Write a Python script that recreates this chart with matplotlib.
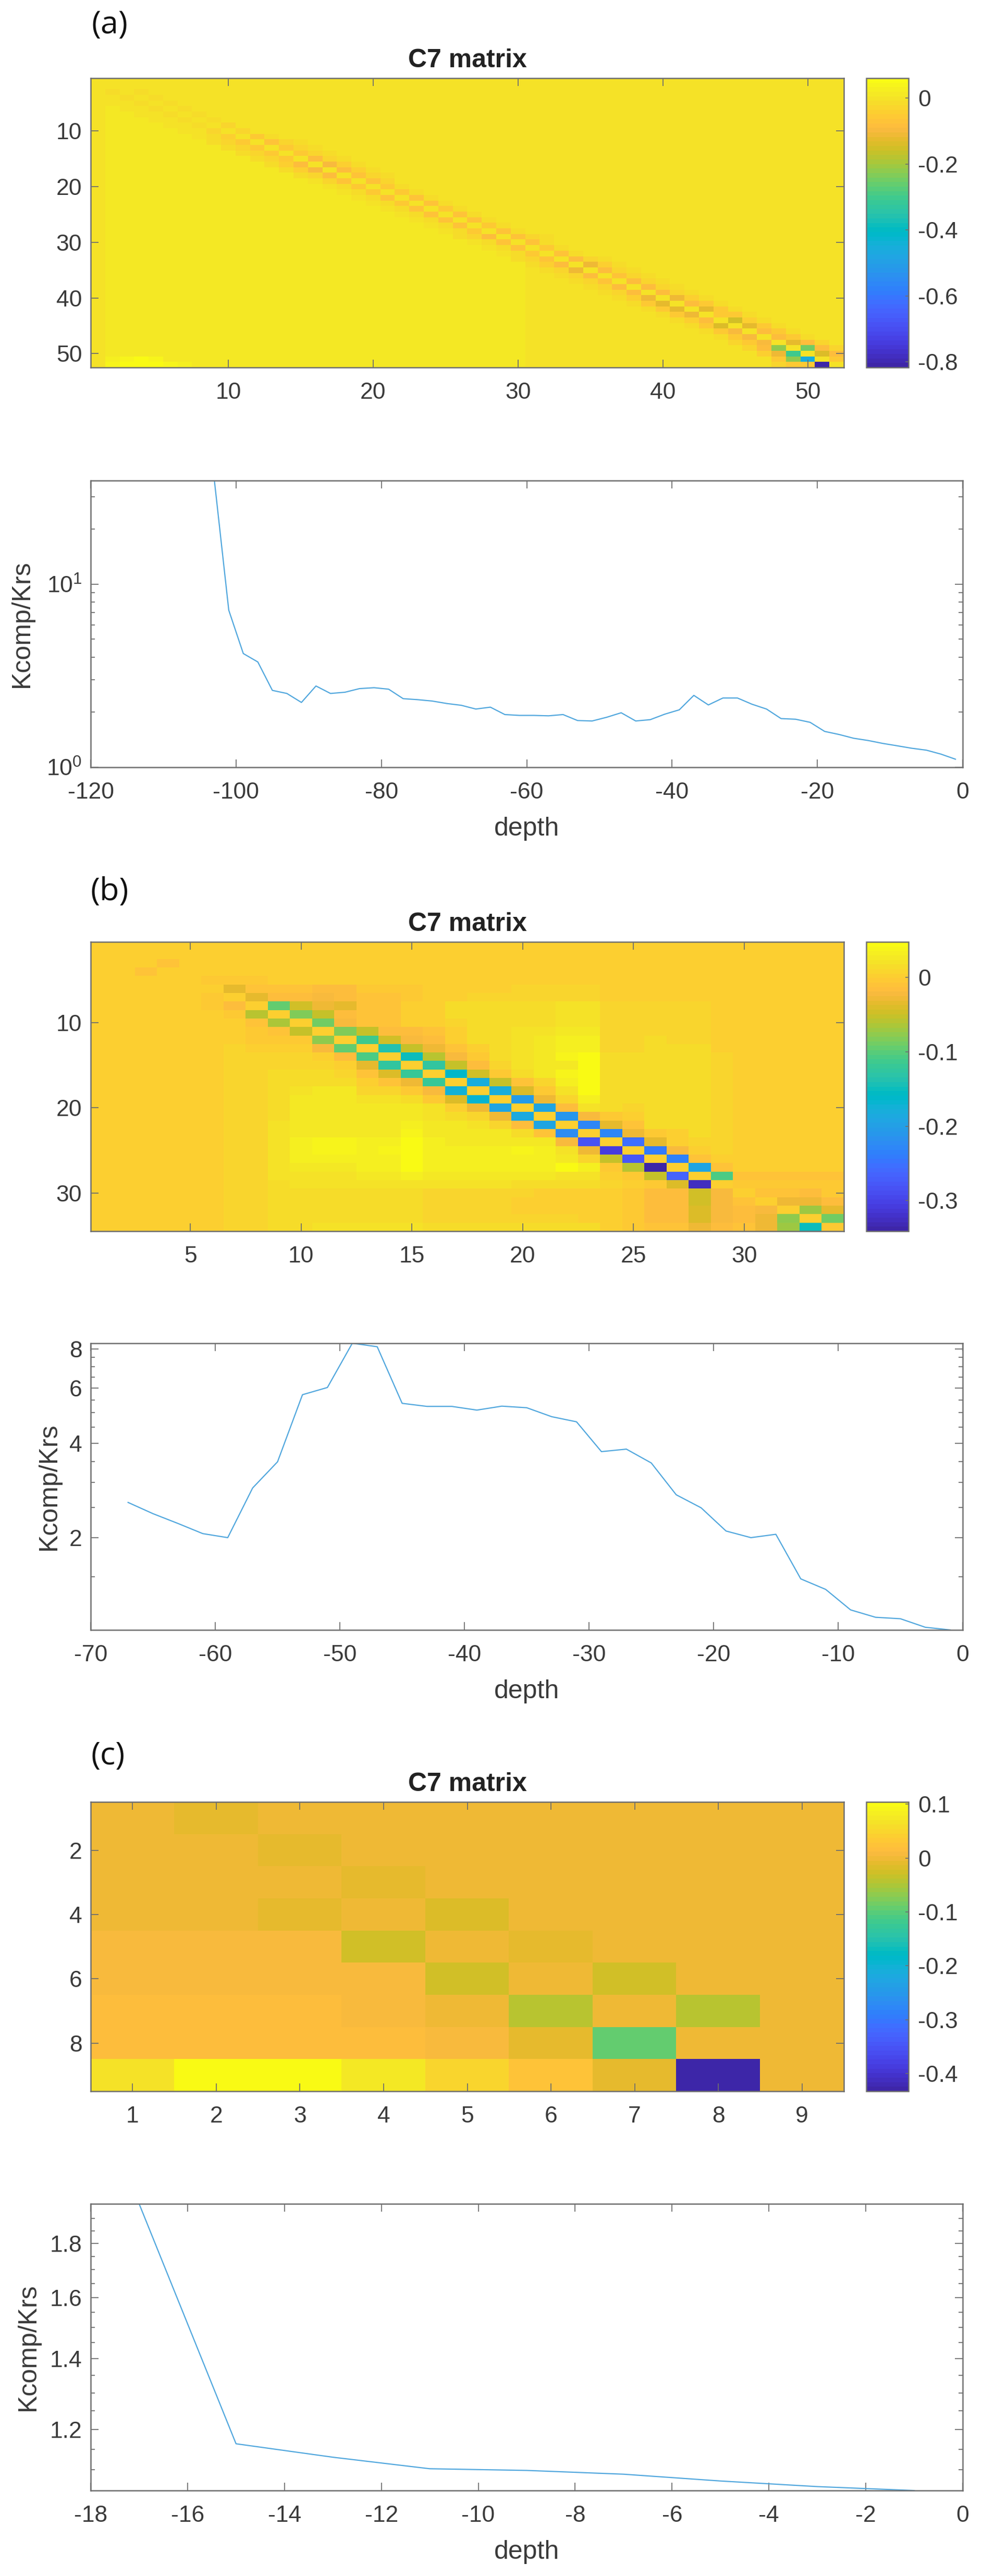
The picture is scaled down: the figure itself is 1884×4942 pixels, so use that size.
import numpy as np
import matplotlib
matplotlib.use('Agg')
import matplotlib.pyplot as plt
from matplotlib.colors import ListedColormap
from matplotlib.ticker import FixedLocator, NullFormatter, FixedFormatter

plt.rcParams['font.family'] = ['Liberation Sans', 'DejaVu Sans']
plt.rcParams['axes.unicode_minus'] = False
plt.rcParams['mathtext.fontset'] = 'custom'
plt.rcParams['mathtext.rm'] = 'Liberation Sans'
plt.rcParams['mathtext.default'] = 'regular'

# MATLAB parula table
parula = [
    [0.2422, 0.1504, 0.6603], [0.2504, 0.1650, 0.7076], [0.2578, 0.1818, 0.7511], [0.2647, 0.1978, 0.7952],
    [0.2706, 0.2147, 0.8364], [0.2751, 0.2342, 0.8710], [0.2783, 0.2559, 0.8991], [0.2803, 0.2782, 0.9221],
    [0.2813, 0.3006, 0.9414], [0.2810, 0.3228, 0.9579], [0.2795, 0.3447, 0.9717], [0.2760, 0.3667, 0.9829],
    [0.2699, 0.3892, 0.9906], [0.2602, 0.4123, 0.9952], [0.2440, 0.4358, 0.9988], [0.2206, 0.4603, 0.9973],
    [0.1963, 0.4847, 0.9892], [0.1834, 0.5074, 0.9798], [0.1786, 0.5289, 0.9682], [0.1764, 0.5499, 0.9520],
    [0.1687, 0.5703, 0.9359], [0.1540, 0.5902, 0.9218], [0.1460, 0.6091, 0.9079], [0.1380, 0.6276, 0.8973],
    [0.1248, 0.6459, 0.8883], [0.1113, 0.6635, 0.8763], [0.0952, 0.6798, 0.8598], [0.0689, 0.6948, 0.8394],
    [0.0297, 0.7082, 0.8163], [0.0036, 0.7203, 0.7917], [0.0067, 0.7312, 0.7660], [0.0433, 0.7411, 0.7394],
    [0.0964, 0.7500, 0.7120], [0.1408, 0.7584, 0.6842], [0.1717, 0.7670, 0.6554], [0.1938, 0.7758, 0.6251],
    [0.2161, 0.7843, 0.5923], [0.2470, 0.7918, 0.5567], [0.2906, 0.7973, 0.5188], [0.3406, 0.8008, 0.4789],
    [0.3909, 0.8029, 0.4354], [0.4456, 0.8024, 0.3909], [0.5044, 0.7993, 0.3480], [0.5616, 0.7942, 0.3045],
    [0.6174, 0.7876, 0.2612], [0.6720, 0.7793, 0.2227], [0.7242, 0.7698, 0.1910], [0.7738, 0.7598, 0.1646],
    [0.8203, 0.7498, 0.1535], [0.8634, 0.7406, 0.1596], [0.9035, 0.7330, 0.1774], [0.9393, 0.7288, 0.2100],
    [0.9728, 0.7298, 0.2394], [0.9956, 0.7434, 0.2371], [0.9970, 0.7659, 0.2199], [0.9952, 0.7893, 0.2028],
    [0.9892, 0.8136, 0.1885], [0.9786, 0.8386, 0.1766], [0.9676, 0.8639, 0.1643], [0.9610, 0.8890, 0.1537],
    [0.9597, 0.9135, 0.1423], [0.9628, 0.9373, 0.1265], [0.9691, 0.9606, 0.1064], [0.9769, 0.9839, 0.0805],
]
cmap = ListedColormap(parula)

# panel (a) matrix, values in thousandths
a_sup1 = [-8, -8, -12, -14, -15, -16, -20, -20, -28, -35, -50, -65, -60, -55, -80, -95, -80, -75, -65, -60, -60,
          -65, -65, -60, -70, -65, -60, -70, -75, -70, -60, -70, -85, -110, -80, -70, -80, -85, -90, -115, -80,
          -130, -60, -150, -130, -80, -90, -130, -250, -140, -50]
a_sub1 = [-8, -10, -14, -15, -16, -18, -20, -22, -32, -45, -60, -60, -55, -60, -90, -100, -80, -65, -60, -60,
          -65, -60, -65, -70, -70, -65, -60, -90, -75, -70, -60, -70, -90, -110, -85, -70, -85, -80, -115, -130,
          -120, -110, -80, -140, -100, -100, -100, -220, -300, -450, -817]
a_near = [-1, -1, -2, -2, -3, -3, -4, -4, -5, -8, -15, -25, -28, -28, -32, -38, -38, -35, -25, -18, -18, -18, -18,
          -18, -20, -20, -20, -22, -25, -22, -22, -22, -28, -38, -32, -28, -28, -34, -34, -45, -50, -50, -50, -45,
          -50, -50, -55, -60, -80, -90, -100, -60]
a_far = [0, 0, 0, 0, -1, -1, -1, -2, -2, -3, -6, -10, -10, -10, -12, -14, -14, -12, -8, -6, -6, -6, -6, -6,
         -7, -7, -7, -8, -9, -8, -8, -8, -10, -14, -12, -10, -10, -12, -12, -18, -18, -18, -18, -18, -18,
         -22, -22, -28, -35, -40, -40, -30]
a_lower = [3, 14, 16, 16, 14, 7, 7, 7, 7, 9, 10, 10, 10, 10, 10, 10, 10, 11, 11, 11, 11, 10, 10, 10, 10, 7, 7, 7,
           7, 7, 5, 5, 5, 5, 4, 4, 3, 3, 2, 2, 2, 1, 1, 0, 0, 0, 0, 0, 0, 0, 0, 0]
a_cells = [(51, 49, -220), (50, 48, -110), (52, 50, -60), (49, 51, -80), (48, 50, -80), (52, 49, -60), (52, 48, -30),
           (51, 48, -60), (51, 2, 30), (51, 3, 45), (51, 4, 50), (51, 5, 40), (52, 2, 40), (52, 3, 55), (52, 4, 60),
           (52, 5, 55), (52, 6, 40), (52, 7, 25)]
a_upper_patch = (10, 20, 22, 38, 3)

# panel (b) matrix, thousandths: (row, first column, values)
b_rows = [
    (3, 4, [-8, 1]),
    (4, 3, [-12, 0, 1]),
    (5, 6, [-4, -5, -4]),
    (6, 5, [1, 0, -35, -12, -10, -10, -18, -14, -6, -5, -2, 0, 4, 5, 5, 6, 6, 6, 6, 1, 2, 2, 3]),
    (7, 6, [-5, 0, -35, -15, -15, -22, -18, -10, -8, -3, 0, 5, 6, 6, 7, 7, 7, 7, 4, 4, 4, 4, 2]),
    (8, 6, [-2, -16, 0, -95, -45, -30, -35, -12, -10, -1, 3, 15, 15, 15, 16, 16, 20, 20, 6, 6, 7, 7, 6]),
    (9, 7, [-2, -60, 0, -80, -50, -18, -12, -10, -1, 4, 16, 16, 16, 16, 17, 21, 21, 6, 6, 7, 7, 6]),
    (10, 8, [-13, -65, 0, -90, -25, -12, -10, 0, 0, 6, 15, 15, 16, 17, 22, 22, 8, 8, 8, 9, 8]),
    (11, 8, [-2, -10, -55, 0, -80, -50, -18, -14, -12, 3, 15, 15, 21, 22, 24, 24, 9, 8, 11, 9, 8]),
    (12, 7, [3, -3, -3, -5, -75, 0, -115, -45, -24, -18, 2, 16, 16, 21, 24, 30, 30, 10, 6, 12, 9, 9, 3]),
    (13, 7, [6, 5, 3, 3, -20, -95, 0, -135, -55, -26, -12, 5, 16, 21, 26, 30, 30, 11, 10, 12, 12, 12, 4]),
    (14, 7, [7, 6, 6, 6, 4, -15, -105, 0, -150, -60, -25, -5, 14, 20, 28, 40, 42, 14, 12, 12, 13, 14, 6]),
    (15, 7, [8, 7, 8, 9, 8, 4, -32, -125, 0, -125, -55, -15, 6, 18, 28, 24, 42, 14, 13, 13, 13, 14, 7]),
    (16, 7, [9, 8, 14, 14, 12, 6, -12, -40, -120, 0, -160, -45, -5, 12, 28, 40, 45, 14, 13, 13, 13, 14, 7]),
    (17, 7, [9, 9, 16, 16, 14, 12, 5, -10, -30, -118, 0, -180, -50, -12, 10, 32, 44, 15, 13, 13, 13, 14, 7]),
    (18, 7, [9, 9, 16, 22, 24, 24, 10, 8, -5, -25, -175, 0, -180, -40, -2, 22, 42, 15, 14, 13, 13, 14, 8]),
    (19, 7, [9, 9, 16, 24, 25, 25, 20, 19, 13, -5, -40, -165, 0, -205, -30, 10, 30, 15, 14, 13, 13, 14, 8]),
    (20, 7, [9, 9, 17, 25, 26, 26, 26, 26, 26, 19, 5, -30, -190, 0, -195, -15, 18, 14, 10, 13, 13, 14, 8]),
    (21, 7, [9, 9, 17, 25, 27, 27, 27, 27, 28, 22, 15, 10, -30, -185, 0, -210, -20, -5, 5, 13, 13, 14, 8]),
    (22, 7, [9, 9, 18, 25, 27, 27, 27, 28, 35, 25, 24, 20, 8, -15, -190, 0, -230, -35, -12, 12, 13, 14, 8]),
    (23, 7, [9, 9, 18, 25, 28, 28, 28, 28, 38, 25, 25, 25, 25, 15, -13, -220, 0, -230, -30, -5, 5, 12, 8]),
    (24, 7, [9, 9, 18, 30, 40, 40, 32, 35, 44, 30, 28, 28, 28, 28, 24, -24, -285, 0, -250, -35, 3, 10, 7]),
    (25, 7, [9, 9, 18, 30, 40, 40, 35, 38, 46, 30, 30, 30, 30, 40, 30, 22, -30, -310, 0, -240, -22, 5, 7]),
    (26, 7, [9, 9, 18, 30, 30, 30, 32, 34, 46, 30, 30, 30, 30, 30, 30, 28, 10, -55, -280, 0, -235, -12, 2]),
    (27, 7, [9, 9, 18, 28, 28, 28, 30, 32, 44, 30, 30, 30, 30, 30, 30, 42, 32, -2, -60, -340, 0, -195, -10]),
    (28, 7, [10, 6, 18, 22, 22, 22, 24, 24, 32, 24, 24, 24, 24, 24, 24, 20, 22, 5, -5, -55, -265, 0, -105, -8, -8, -8, -8, -10]),
    (29, 7, [9, 6, 15, 18, 18, 18, 18, 18, 20, 18, 18, 18, 18, 16, 16, 16, 16, 6, 4, -5, -40, -325, 0, -2, -5, -5, -5, -6]),
    (30, 7, [8, 6, 12, 12, 12, 12, 12, 12, 13, 8, 8, 6, 6, 6, 5, 4, 4, 2, -2, -14, -14, -45, -25, 0, -12, -12, -14, -6]),
    (31, 7, [8, 6, 12, 12, 12, 12, 12, 12, 13, 8, 8, 6, 6, 5, 5, 4, 4, 2, -2, -14, -14, -45, -22, -12, 0, -28, -28, -14]),
    (32, 7, [8, 6, 12, 12, 12, 12, 12, 12, 13, 8, 8, 6, 6, 5, 5, 4, 4, 2, -2, -14, -14, -40, -22, -14, -25, 0, -70, -35]),
    (33, 7, [8, 6, 12, 14, 14, 14, 14, 14, 14, 10, 10, 9, 9, 9, 8, 6, 5, 2, -4, -15, -15, -40, -20, -14, -30, -75, 0, -90]),
    (34, 7, [8, 6, 14, 16, 22, 20, 20, 20, 18, 14, 14, 14, 14, 14, 14, 14, 14, 4, -4, -12, -12, -30, -14, -12, -28, -70, -150, -2]),
]

# panel (c) matrix
c_matrix = [
    [0, -0.008, 0, 0, 0, 0, 0, 0, 0],
    [0, 0, -0.006, 0, 0, 0, 0, 0, 0],
    [-0.003, -0.002, -0.001, -0.012, 0, 0, 0, 0, 0],
    [0.003, 0.003, -0.008, 0, -0.014, 0, 0, 0, 0],
    [0.005, 0.005, 0.005, -0.025, 0.002, -0.012, 0, 0, 0],
    [0.006, 0.006, 0.006, 0.006, -0.025, 0.002, -0.025, 0, 0],
    [0.012, 0.012, 0.012, 0.008, 0.003, -0.04, 0.002, -0.045, 0],
    [0.012, 0.018, 0.018, 0.014, 0.008, -0.012, -0.09, 0.003, 0],
    [0.065, 0.1, 0.1, 0.075, 0.05, 0.028, -0.008, -0.4326, 0],
]

# line data
a_depth = [-103, -101, -99, -97, -95, -93, -91, -89, -87, -85, -83, -81, -79, -77, -75, -73, -71, -69, -67, -65, -63,
           -61, -59, -57, -55, -53, -51, -49, -47, -45, -43, -41, -39, -37, -35, -33, -31, -29, -27, -25, -23, -21,
           -19, -17, -15, -13, -11, -9, -7, -5, -3, -1]
a_ratio = [37.5, 7.21, 4.18, 3.76, 2.63, 2.53, 2.26, 2.78, 2.53, 2.57, 2.69, 2.72, 2.67, 2.37, 2.34, 2.30, 2.23, 2.18,
           2.08, 2.13, 1.94, 1.92, 1.92, 1.91, 1.94, 1.80, 1.79, 1.875, 1.985, 1.79, 1.82, 1.95, 2.06, 2.47, 2.19,
           2.39, 2.39, 2.21, 2.08, 1.845, 1.83, 1.76, 1.57, 1.51, 1.44, 1.40, 1.35, 1.31, 1.27, 1.24, 1.18, 1.107]
b_depth = [-67, -65, -63, -61, -59, -57, -55, -53, -51, -49, -47, -45, -43, -41, -39, -37, -35, -33, -31, -29, -27,
           -25, -23, -21, -19, -17, -15, -13, -11, -9, -7, -5, -3, -1]
b_ratio = [2.59, 2.385, 2.22, 2.06, 2.00, 2.88, 3.49, 5.71, 6.02, 8.33, 8.12, 5.36, 5.24, 5.24, 5.10, 5.25, 5.19, 4.86,
           4.68, 3.76, 3.83, 3.46, 2.74, 2.49, 2.10, 2.00, 2.05, 1.478, 1.368, 1.177, 1.115, 1.103, 1.036, 1.016]
c_depth = [-17, -15, -13, -11, -9, -7, -5, -3, -1]
c_ratio = [1.962, 1.1636, 1.13, 1.102, 1.098, 1.089, 1.073, 1.06, 1.051]

# ticks
a_cbar_ticks = [-0.8, -0.6, -0.4, -0.2, 0]
a_cbar_labels = ['-0.8', '-0.6', '-0.4', '-0.2', '0']
b_cbar_ticks = [-0.3, -0.2, -0.1, 0]
b_cbar_labels = ['-0.3', '-0.2', '-0.1', '0']
c_cbar_ticks = [-0.4, -0.3, -0.2, -0.1, 0, 0.1]
c_cbar_labels = ['-0.4', '-0.3', '-0.2', '-0.1', '0', '0.1']

# build matrix (a) from the band lists
n = 52
mat_a = np.zeros((n, n))
for r in range(n):
    for c in range(n):
        if r > c + 3:
            mat_a[r, c] = a_lower[c]
p = a_upper_patch
mat_a[p[0] - 1:p[1], p[2] - 1:p[3]] = p[4]
for r in range(n):
    for c in range(n):
        d = abs(r - c)
        if d == 2:
            mat_a[r, c] = a_near[r]
        elif d == 3:
            mat_a[r, c] = a_far[r]
        elif d == 0:
            mat_a[r, c] = 0
for r in range(n - 1):
    mat_a[r, r + 1] = a_sup1[r]
    mat_a[r + 1, r] = a_sub1[r]
for r, c, v in a_cells:
    mat_a[r - 1, c - 1] = v
mat_a = mat_a / 1000

mat_b = np.zeros((34, 34))
for r, c, vals in b_rows:
    mat_b[r - 1, c - 1:c - 1 + len(vals)] = vals
mat_b = mat_b / 1000

W, H = 1884, 4942
fig = plt.figure(figsize=(W / 100, H / 100), dpi=100)
GRAY = '#6e6e6e'
TXT = '#3a3a3a'
LINE = '#4fa6dd'


def px_axes(left, top, right, bottom):
    return fig.add_axes([left / W, 1 - bottom / H, (right - left) / W, (bottom - top) / H])


def style_box(ax):
    for s in ax.spines.values():
        s.set_color(GRAY)
        s.set_linewidth(1.8)
    ax.tick_params(which='major', direction='in', top=True, right=True, length=11, width=1.3, color=GRAY,
                   labelsize=32, labelcolor=TXT)
    ax.tick_params(which='minor', direction='in', top=False, right=True, left=True, length=6, width=1.3, color=GRAY)
    ax.tick_params(axis='x', which='major', pad=20)
    ax.tick_params(axis='y', which='major', pad=12)


def heat(mat, top, vmin, vmax, xticks, yticks, cticks, clabels, letter, letter_x, letter_y):
    m = len(mat)
    ax = px_axes(174, top, 1619, top + 555)
    im = ax.imshow(mat, cmap=cmap, vmin=vmin, vmax=vmax, aspect='auto', interpolation='nearest',
                   extent=(0.5, m + 0.5, m + 0.5, 0.5))
    ax.set_xticks(xticks)
    ax.set_yticks(yticks)
    style_box(ax)
    ax.set_title('C7 matrix', fontsize=36, fontweight='bold', color='#222222', pad=15)
    cax = px_axes(1662, top, 1743, top + 555)
    cb = fig.colorbar(im, cax=cax)
    cb.set_ticks(cticks)
    cb.set_ticklabels(clabels)
    cb.outline.set_edgecolor(GRAY)
    cb.outline.set_linewidth(1.8)
    cax.tick_params(direction='in', length=4, width=1.2, color=GRAY, labelsize=32, labelcolor=TXT, pad=13)
    fig.text(letter_x / W, 1 - letter_y / H, letter, fontsize=44, family=['Open Sans', 'DejaVu Sans'],
             ha='center', va='center', color='#111111')


def curve(depth, ratio, top, xlim, ylim, xticks, label_x):
    ax = px_axes(174, top, 1847, top + 550)
    ax.plot(depth, ratio, color=LINE, linewidth=1.6)
    ax.set_yscale('log')
    ax.set_xlim(xlim)
    ax.set_ylim(ylim)
    ax.set_xticks(xticks)
    ax.set_xticklabels([str(t) for t in xticks])
    style_box(ax)
    ax.set_xlabel('depth', fontsize=36, color=TXT)
    ax.xaxis.set_label_coords(0.5, -118 / 550, transform=ax.transAxes)
    ax.xaxis.label.set_va('center')
    ax.set_ylabel('Kcomp/Krs', fontsize=36, color=TXT)
    ax.yaxis.set_label_coords((label_x - 174) / 1673, 0.5, transform=ax.transAxes)
    ax.yaxis.label.set_va('center')
    return ax


heat(mat_a, 150, -0.817, 0.06, [10, 20, 30, 40, 50], [10, 20, 30, 40, 50], a_cbar_ticks, a_cbar_labels,
     '(a)', 210, 48)
heat(mat_b, 1807, -0.341, 0.0475, [5, 10, 15, 20, 25, 30], [10, 20, 30], b_cbar_ticks, b_cbar_labels,
     '(b)', 210, 1711)
heat(np.array(c_matrix), 3457, -0.4326, 0.104, [1, 2, 3, 4, 5, 6, 7, 8, 9], [2, 4, 6, 8], c_cbar_ticks, c_cbar_labels,
     '(c)', 207, 3369)

ax_a = curve(a_depth, a_ratio, 922, (-120, 0), (1, 36.8), [-120, -100, -80, -60, -40, -20, 0], 42)

ax_b = curve(b_depth, b_ratio, 2577, (-70, 0), (1.016, 8.33), [-70, -60, -50, -40, -30, -20, -10, 0], 94)
ax_b.yaxis.set_major_locator(FixedLocator([2, 4, 6, 8]))
ax_b.yaxis.set_major_formatter(FixedFormatter(['2', '4', '6', '8']))
ax_b.yaxis.set_minor_locator(FixedLocator([1.5, 2.5, 3, 3.5, 4.5, 5, 5.5, 6.5, 7, 7.5]))
ax_b.yaxis.set_minor_formatter(NullFormatter())

ax_c = curve(c_depth, c_ratio, 4228, (-18, 0), (1.051, 1.962), [-18, -16, -14, -12, -10, -8, -6, -4, -2, 0], 54)
ax_c.yaxis.set_major_locator(FixedLocator([1.2, 1.4, 1.6, 1.8]))
ax_c.yaxis.set_major_formatter(FixedFormatter(['1.2', '1.4', '1.6', '1.8']))
ax_c.yaxis.set_minor_locator(FixedLocator([1.1, 1.15, 1.25, 1.3, 1.35, 1.45, 1.5, 1.55, 1.65, 1.7, 1.75, 1.85, 1.9]))
ax_c.yaxis.set_minor_formatter(NullFormatter())

fig.savefig('out.png', dpi=100)
